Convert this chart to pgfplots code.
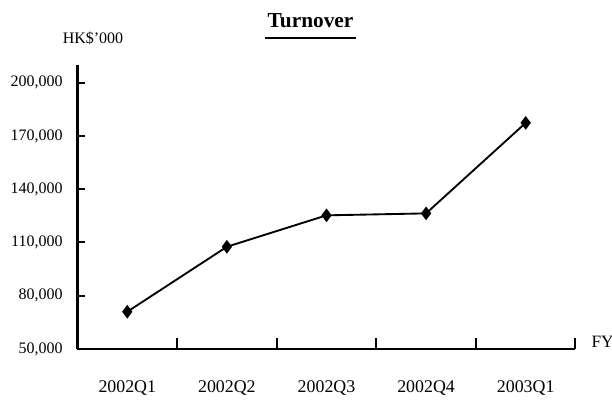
\documentclass[border=0pt]{standalone}
\usepackage{pgfplots}
\pgfplotsset{compat=1.18}
\usetikzlibrary{calc}
\usepackage{fontspec}
\setmainfont{Liberation Serif}
\begin{document}
\fontsize{12pt}{14pt}\selectfont
\begin{tikzpicture}[x=0.75pt,y=0.75pt]
\begin{axis}[
  scale only axis, width=373.5pt, height=213pt,
  xmin=0.5, xmax=5.5, ymin=50000, ymax=210000,
  axis x line=bottom, axis y line=left,
  axis line style={-, line width=1.9pt},
  xtick={1,2,3,4,5},
  xticklabels={2002Q1,2002Q2,2002Q3,2002Q4,2003Q1},
  major x tick style={draw=none},
  minor xtick={1.5,2.5,3.5,4.5,5.5},
  minor x tick style={line width=1.5pt, black},
  minor tick length=8.5pt,
  ytick={50000,80000,110000,140000,170000,200000},
  yticklabels={{50,000},{80,000},{110,000},{140,000},{170,000},{200,000}},
  ytick style={line width=1.5pt, black},
  major tick length=6pt,
  tick align=inside,
  scaled y ticks=false,
  xticklabel style={yshift=-19.5pt, font=\fontsize{13.4pt}{16pt}\selectfont},
  yticklabel style={xshift=-7pt, font=\fontsize{12pt}{14pt}\selectfont},
  clip=false,
]
\addplot[black, line width=1.4pt, mark=diamond*, mark size=4pt, mark options={solid}]
  coordinates {(1,71000) (2,107600) (3,125300) (4,126400) (5,177400)};
\coordinate (O) at (rel axis cs:0,0);
\end{axis}
\node[anchor=west, font=\fontsize{13pt}{15pt}\selectfont] at ($(O)+(508.5,7)$) {FY};
\node[font=\fontsize{12pt}{14pt}\selectfont] at ($(O)+(15.5,311)$) {HK\$'000};
\node[font=\bfseries\fontsize{16pt}{19pt}\selectfont] at ($(O)+(233,328)$) {Turnover};
\draw[line width=1.2pt] ($(O)+(187.5,311)$) -- ($(O)+(278.5,311)$);
\pgfresetboundingbox
\path[use as bounding box] ($(O)+(-77.5,-51)$) rectangle +(612,400);
\end{tikzpicture}
\end{document}
